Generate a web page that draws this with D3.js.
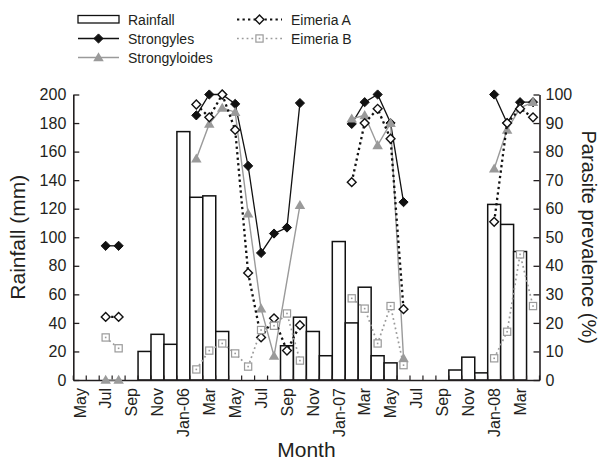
<!DOCTYPE html>
<html>
<head>
<meta charset="utf-8">
<script src="https://cdn.jsdelivr.net/npm/d3@7"></script>
<style>
body { margin: 0; background: #fff; }
svg { font-family: "Liberation Sans", Arial, sans-serif; }
</style>
</head>
<body>
<div id="chart"></div>
<script>
// months May 2005 .. Apr 2008
const months = [
    "May-05", "Jun-05", "Jul-05", "Aug-05", "Sep-05", "Oct-05", "Nov-05", "Dec-05",
    "Jan-06", "Feb-06", "Mar-06", "Apr-06", "May-06", "Jun-06", "Jul-06", "Aug-06",
    "Sep-06", "Oct-06", "Nov-06", "Dec-06", "Jan-07", "Feb-07", "Mar-07", "Apr-07",
    "May-07", "Jun-07", "Jul-07", "Aug-07", "Sep-07", "Oct-07", "Nov-07", "Dec-07",
    "Jan-08", "Feb-08", "Mar-08", "Apr-08"
];
const monthLabels = [
    "May", "", "Jul", "", "Sep", "", "Nov", "",
    "Jan-06", "", "Mar", "", "May", "", "Jul", "",
    "Sep", "", "Nov", "", "Jan-07", "", "Mar", "",
    "May", "", "Jul", "", "Sep", "", "Nov", "",
    "Jan-08", "", "Mar", ""
];

// rainfall (mm)
const rainfall = [
    null, null, null, null, null, 20, 32, 25,
    174, 128, 129, 34, null, null, null, null,
    24, 44, 34, 17, 97, 40, 65, 17,
    12, null, null, null, null, 7, 16, 5,
    123, 109, 90, null
];

// parasite prevalence (%)
const strongyles = [
    null, null, 47, 47, null, null, null, null,
    null, 92.7, 100, 100, 96.7, 75, 44.5, 51.3,
    53.4, 97, null, null, null, 89.7, 97.3, 100,
    90, 62.3, null, null, null, null, null, null,
    100, 90, 97.3, 97.3
];
const strongyloides = [
    null, null, 0, 0, null, null, null, null,
    null, 77.5, 89.7, 95.3, 93.8, 58.3, 25, 8.4,
    null, 61.2, null, null, null, 91.5, 92.7, 82.2,
    90, 7.6, null, null, null, null, null, null,
    74, 87.6, 95.3, 97.3
];
const eimeriaA = [
    null, null, 22.1, 22.1, null, null, null, null,
    null, 96.5, 92, 100, 87.6, 37.5, 14.9, 21.6,
    10.3, 19.2, null, null, null, 69.3, 90, 95,
    84.5, 24.8, null, null, null, null, null, null,
    55.4, 90, 95, 92
];
const eimeriaB = [
    null, null, 14.9, 11.1, null, null, null, null,
    null, 3.7, 10.3, 12.8, 9.3, 4.7, 17.5, 19,
    23.3, 6.8, null, null, null, 28.6, 25, 12.8,
    25.9, 5.2, null, null, null, null, null, null,
    7.6, 16.9, 44, 25.9
];

var width = 605, height = 468;
var plot = { left: 73.3, right: 539.5, top: 94.5, bottom: 380 };
var axisColor = "#231f20";
var grey = "#9a9a9a";

var svg = d3.select("#chart").append("svg")
    .attr("width", width)
    .attr("height", height);

var x = d3.scaleBand().domain(months).range([plot.left, plot.right]).padding(0);
var yRain = d3.scaleLinear().domain([0, 200]).range([plot.bottom, plot.top]);
var yPrev = d3.scaleLinear().domain([0, 100]).range([plot.bottom, plot.top]);
var cx = (i) => x(months[i]) + x.bandwidth() / 2;

/****** rainfall bars ******/
svg.append("g")
    .selectAll("rect")
    .data(rainfall.map((v, i) => ({ i, v })).filter((d) => d.v != null))
    .join("rect")
    .attr("x", (d) => x(months[d.i]))
    .attr("y", (d) => yRain(d.v))
    .attr("width", x.bandwidth())
    .attr("height", (d) => yRain(0) - yRain(d.v))
    .attr("fill", "#fff")
    .attr("stroke", "#111")
    .attr("stroke-width", 1.5);

/****** axes ******/
var yAxisLeft = d3.axisLeft(yRain).tickValues(d3.range(0, 201, 20))
    .tickSizeInner(-6).tickSizeOuter(0).tickPadding(7);
var gl = svg.append("g").attr("transform", `translate(${plot.left},0)`).call(yAxisLeft);

var yAxisRight = d3.axisRight(yPrev).tickValues(d3.range(0, 101, 10))
    .tickSizeInner(-6).tickSizeOuter(0).tickPadding(6);
var gr = svg.append("g").attr("transform", `translate(${plot.right},0)`).call(yAxisRight);

var xAxis = d3.axisBottom(x).tickSize(0).tickFormat((d, i) => monthLabels[i]);
var gx = svg.append("g").attr("transform", `translate(0,${plot.bottom})`).call(xAxis);
gx.selectAll("text")
    .attr("transform", "rotate(-90)")
    .attr("x", -8)
    .attr("y", 0)
    .attr("dy", "0.36em")
    .style("text-anchor", "end");

// month boundary ticks (inside)
gx.selectAll(".bound")
    .data(months.concat(["end"]))
    .join("line")
    .attr("x1", (d, i) => plot.left + i * x.bandwidth())
    .attr("x2", (d, i) => plot.left + i * x.bandwidth())
    .attr("y1", 0)
    .attr("y2", -4.5)
    .attr("stroke", axisColor)
    .attr("stroke-width", 1.2);

[gl, gr, gx].forEach((g) => {
    g.selectAll(".domain").attr("stroke", axisColor).attr("stroke-width", 1.6);
    g.selectAll(".tick line").attr("stroke", axisColor).attr("stroke-width", 1.3);
    g.selectAll("text").attr("fill", "#231f20").style("font-family", "Liberation Sans, Arial, sans-serif");
});
gl.selectAll("text").style("font-size", "16px");
gr.selectAll("text").style("font-size", "16px");
gx.selectAll("text").style("font-size", "16px");

// axis titles
svg.append("text")
    .text("Rainfall (mm)")
    .attr("transform", `translate(25, ${(plot.top + plot.bottom) / 2}) rotate(-90)`)
    .attr("text-anchor", "middle")
    .style("font-size", "21px")
    .attr("fill", "#231f20");

svg.append("text")
    .text("Parasite prevalence (%)")
    .attr("transform", `translate(582, ${(plot.top + plot.bottom) / 2}) rotate(90)`)
    .attr("text-anchor", "middle")
    .style("font-size", "20px")
    .attr("fill", "#231f20");

svg.append("text")
    .text("Month")
    .attr("x", (plot.left + plot.right) / 2)
    .attr("y", 457)
    .attr("text-anchor", "middle")
    .style("font-size", "21px")
    .attr("fill", "#231f20");

/****** prevalence series ******/
// split a series into sampling periods (gap of more than one month breaks the line)
function segments(values) {
    const pts = values.map((v, i) => ({ i, v })).filter((d) => d.v != null);
    const segs = [];
    pts.forEach((p, k) => {
        if (k == 0 || p.i - pts[k - 1].i > 2) segs.push([]);
        segs[segs.length - 1].push(p);
    });
    return segs;
}

var line = d3.line().x((d) => cx(d.i)).y((d) => yPrev(d.v));

var diamondPath = (r) => `M0,${-r}L${r},0L0,${r}L${-r},0Z`;

function drawMarker(g, kind, color) {
    if (kind == "diamondFilled") {
        g.append("path").attr("d", diamondPath(4.6)).attr("fill", "#111").attr("stroke", "#111");
    } else if (kind == "diamondOpen") {
        g.append("path").attr("d", diamondPath(4.4)).attr("fill", "#fff").attr("stroke", "#111").attr("stroke-width", 1.4);
    } else if (kind == "triangle") {
        g.append("path").attr("d", d3.symbol(d3.symbolTriangle, 48)()).attr("transform", "translate(0,0.8)").attr("fill", color);
    } else if (kind == "square") {
        g.append("rect").attr("x", -3.6).attr("y", -3.6).attr("width", 7.2).attr("height", 7.2)
            .attr("fill", "#fff").attr("stroke", color).attr("stroke-width", 1.2);
        g.append("rect").attr("x", -0.8).attr("y", -0.8).attr("width", 1.6).attr("height", 1.6).attr("fill", color);
    }
}

const series = [
    { name: "Strongyles", values: strongyles, color: "#111", width: 1.3, dash: null, marker: "diamondFilled" },
    { name: "Strongyloides", values: strongyloides, color: grey, width: 1.4, dash: null, marker: "triangle" },
    { name: "Eimeria A", values: eimeriaA, color: "#111", width: 2.3, dash: "2.3,3.2", marker: "diamondOpen" },
    { name: "Eimeria B", values: eimeriaB, color: grey, width: 1.7, dash: "1.8,3", marker: "square" },
];

series.forEach((s) => {
    const g = svg.append("g");
    segments(s.values).forEach((seg) => {
        g.append("path")
            .datum(seg)
            .attr("d", line)
            .attr("fill", "none")
            .attr("stroke", s.color)
            .attr("stroke-width", s.width)
            .attr("stroke-dasharray", s.dash);
    });
    s.values.forEach((v, i) => {
        if (v == null) return;
        const m = g.append("g").attr("transform", `translate(${cx(i)},${yPrev(v)})`);
        drawMarker(m, s.marker, s.color);
    });
});

/****** legend ******/
const legend = svg.append("g").attr("class", "legend");
const legendItems = [
    { name: "Rainfall", col: 0, row: 0, kind: "bar" },
    { name: "Strongyles", col: 0, row: 1, s: series[0] },
    { name: "Strongyloides", col: 0, row: 2, s: series[1] },
    { name: "Eimeria A", col: 1, row: 0, s: series[2] },
    { name: "Eimeria B", col: 1, row: 1, s: series[3] },
];
const colX = [78, 237], rowY = [19.5, 38.5, 57.5];
legendItems.forEach((d) => {
    const gx0 = colX[d.col], gy = rowY[d.row];
    const lw = d.col == 0 ? 41 : 45;
    if (d.kind == "bar") {
        legend.append("rect").attr("x", gx0).attr("y", gy - 4).attr("width", lw).attr("height", 7.5)
            .attr("fill", "#fff").attr("stroke", "#111").attr("stroke-width", 1.3);
    } else {
        legend.append("line")
            .attr("x1", gx0).attr("x2", gx0 + lw).attr("y1", gy).attr("y2", gy)
            .attr("stroke", d.s.color)
            .attr("stroke-width", d.s.dash ? d.s.width * 0.8 : d.s.width)
            .attr("stroke-dasharray", d.s.dash);
        const m = legend.append("g").attr("transform", `translate(${gx0 + lw / 2},${gy})`);
        drawMarker(m, d.s.marker, d.s.color);
    }
    legend.append("text")
        .attr("x", gx0 + lw + 9)
        .attr("y", gy + 5)
        .text(d.name)
        .style("font-size", "14px")
        .attr("fill", "#231f20");
});
</script>
</body>
</html>
